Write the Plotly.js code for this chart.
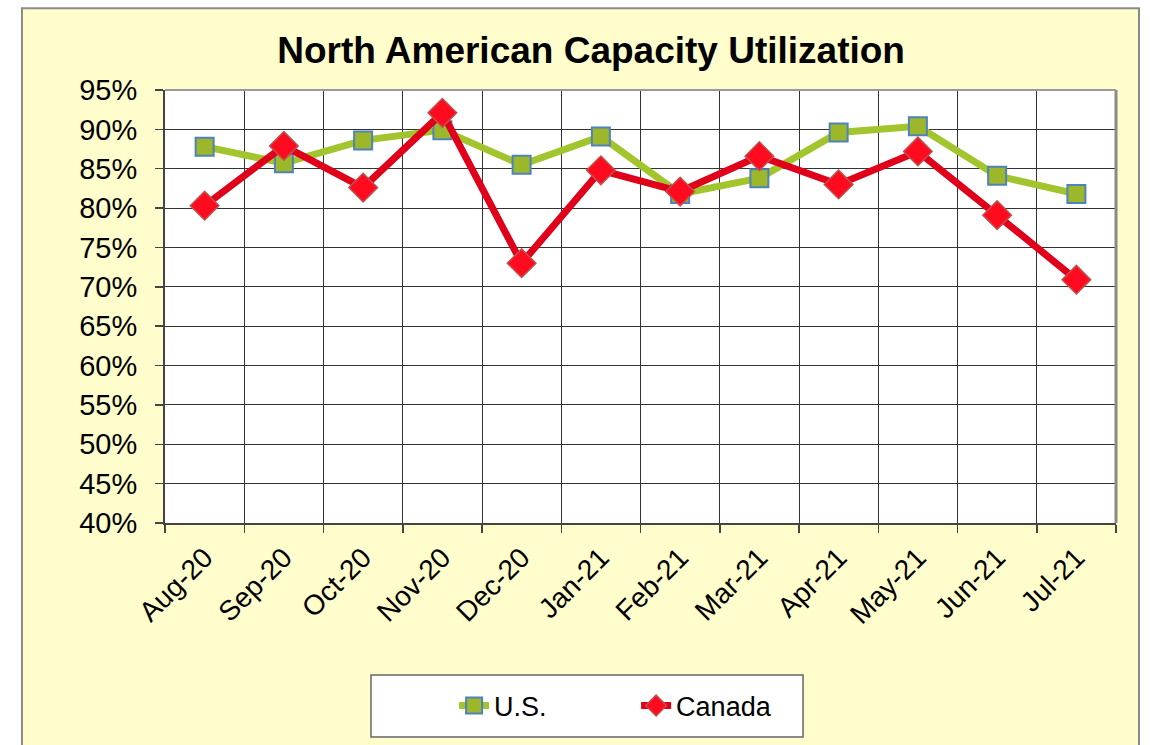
<!DOCTYPE html>
<html>
<head>
<meta charset="utf-8">
<script src="https://cdn.plot.ly/plotly-3.0.1.min.js"></script>
<style>html,body{margin:0;padding:0;background:#fff;}#chart{width:1150px;height:745px;}</style>
</head>
<body>
<div id="chart"></div>
<script>
const months = ["Aug-20","Sep-20","Oct-20","Nov-20","Dec-20","Jan-21","Feb-21","Mar-21","Apr-21","May-21","Jun-21","Jul-21"];
const usValues = [87.8, 85.7, 88.6, 89.9, 85.5, 89.1, 81.8, 83.8, 89.6, 90.4, 84.1, 81.8];
const canadaValues = [80.3, 87.9, 82.6, 92.1, 73.0, 84.8, 82.1, 86.6, 83.0, 87.2, 79.1, 70.9];
const yTicks = [40,45,50,55,60,65,70,75,80,85,90,95];

const idx = months.map((m,i)=>i);
const font = "Liberation Sans, Arial, sans-serif";

const traces = [
  {
    x: idx, y: usValues, name: "U.S.", type: "scatter", mode: "lines+markers",
    line: {color: "#a2c42c", width: 7},
    marker: {symbol: "square", size: 18, color: "#9cb82a", line: {color: "#4f81bd", width: 2}}
  },
  {
    x: idx, y: canadaValues, name: "Canada", type: "scatter", mode: "lines+markers",
    line: {color: "#e0001a", width: 7},
    marker: {symbol: "diamond", size: 22, color: "#ff0a1e", line: {color: "#c0504d", width: 1.5}}
  }
];

const layout = {
  width: 1150, height: 745,
  paper_bgcolor: "#ffffff",
  plot_bgcolor: "#ffffff",
  margin: {l: 165, r: 34, t: 90, b: 222},
  font: {family: font, color: "#000"},
  title: {text: "<b>North American Capacity Utilization</b>", font: {family: font, size: 37, color: "#000"},
          x: 0.514, xanchor: "center", y: 0.933, yanchor: "middle"},
  xaxis: {
    range: [-0.5, 11.5],
    tickmode: "array", tickvals: idx, ticktext: months,
    tickangle: -45, ticks: "", showgrid: false,
    tickfont: {family: font, size: 28},
    ticklabelstandoff: 5,
    showline: true, linecolor: "#444", linewidth: 2, mirror: false,
    zeroline: false, fixedrange: true,
    minor: {tickmode: "linear", tick0: -0.5, dtick: 1, ticks: "outside", ticklen: 8, tickcolor: "#444", tickwidth: 1.5,
            showgrid: true, gridcolor: "#333", gridwidth: 1}
  },
  yaxis: {
    range: [40, 95],
    tickmode: "array", tickvals: yTicks, ticktext: yTicks.map(v => v + "%"),
    ticks: "outside", ticklen: 8, tickcolor: "#444", tickwidth: 1.5,
    tickfont: {family: font, size: 29},
    ticklabelstandoff: 12,
    showgrid: true, gridcolor: "#333", gridwidth: 1,
    showline: true, linecolor: "#444", linewidth: 2,
    zeroline: false, fixedrange: true
  },
  showlegend: true,
  legend: {
    orientation: "h",
    x: 0.304, xanchor: "left",
    y: -0.4226, yanchor: "middle",
    bgcolor: "rgba(0,0,0,0)", borderwidth: 0,
    font: {family: font, size: 27, color: "#000"},
    entrywidth: 137, entrywidthmode: "pixels",
    itemclick: false
  },
  shapes: [
    {type: "rect", xref: "paper", yref: "paper", x0: -0.1504, x1: 1.0242, y0: -0.58, y1: 1.189,
     fillcolor: "#fffdcc", line: {color: "#8a8a8a", width: 2}, layer: "below"},
    {type: "rect", xref: "paper", yref: "paper", x0: 0, x1: 1, y0: 0, y1: 1,
     fillcolor: "#ffffff", line: {width: 0}, layer: "below"},
    {type: "line", xref: "paper", yref: "paper", x0: 1, x1: 1, y0: 0, y1: 1,
     line: {color: "#8a8a8a", width: 3}},
    {type: "line", xref: "paper", yref: "paper", x0: 0, x1: 1, y0: 1, y1: 1,
     line: {color: "#9a9a9a", width: 2}},
    {type: "rect", xref: "paper", yref: "paper", x0: 0.2166, x1: 0.6709, y0: -0.3510, y1: -0.4942,
     fillcolor: "#ffffff", line: {color: "#666", width: 1.5}, layer: "above"}
  ]
};

Plotly.newPlot("chart", traces, layout, {displayModeBar: false, staticPlot: true});
</script>
</body>
</html>
